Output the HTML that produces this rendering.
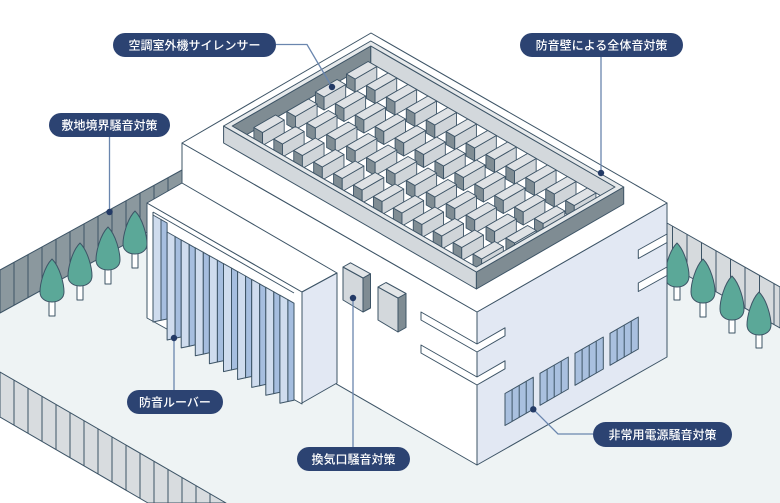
<!DOCTYPE html>
<html><head><meta charset="utf-8"><style>
html,body{margin:0;padding:0;background:#fff;}
svg{display:block;}
.lb{font-family:"Liberation Sans","Noto Sans CJK JP",sans-serif;font-size:12px;font-weight:500;fill:#fff;}
</style></head><body>
<svg width="780" height="503" viewBox="0 0 780 503" xmlns="http://www.w3.org/2000/svg">
<defs>
<g id="bx" stroke="#3d5466" stroke-width="0.9" stroke-linejoin="round">
<polygon points="0,0 8.66,5 8.66,-8 0,-13" fill="#808d94"/>
<polygon points="8.66,5 30.31,-7.5 30.31,-20.5 8.66,-8" fill="#d0d5d9"/>
<polygon points="0,-13 8.66,-8 30.31,-20.5 21.65,-25.5" fill="#dfe2e5"/>
</g>
<g id="row">
<use href="#bx" x="0" y="0"/><use href="#bx" x="19.92" y="11.5"/><use href="#bx" x="39.84" y="23"/><use href="#bx" x="59.76" y="34.5"/><use href="#bx" x="79.68" y="46"/><use href="#bx" x="99.6" y="57.5"/><use href="#bx" x="119.52" y="69"/><use href="#bx" x="139.44" y="80.5"/><use href="#bx" x="159.36" y="92"/><use href="#bx" x="179.28" y="103.5"/><use href="#bx" x="199.2" y="115"/><use href="#bx" x="219.12" y="126.5"/>
</g>
</defs>
<rect width="780" height="503" fill="#fff"/>
<!-- ground -->
<polygon points="0,313 182,213 667,264 780,328 780,503 226,503 0,372" fill="#eef3f4"/>
<g stroke="#3d5466" stroke-width="1" stroke-linejoin="round">
<!-- left back fence -->
<polygon points="0,270 182,170 182,213 0,313" fill="#8b989e"/>
<g fill="none">
<line x1="14" y1="262.3" x2="14" y2="305.3"/><line x1="28" y1="254.6" x2="28" y2="297.6"/><line x1="42" y1="246.9" x2="42" y2="289.9"/><line x1="56" y1="239.3" x2="56" y2="282.3"/><line x1="70" y1="231.6" x2="70" y2="274.6"/><line x1="84" y1="223.9" x2="84" y2="266.9"/><line x1="98" y1="216.2" x2="98" y2="259.2"/><line x1="112" y1="208.5" x2="112" y2="251.5"/><line x1="126" y1="200.8" x2="126" y2="243.8"/><line x1="140" y1="193.1" x2="140" y2="236.1"/><line x1="154" y1="185.5" x2="154" y2="228.5"/><line x1="168" y1="177.8" x2="168" y2="220.8"/>
</g>
<!-- right fence -->
<polygon points="667,223 780,287 780,328 667,264" fill="#d6dadd"/>
<g fill="none">
<line x1="672.5" y1="226.1" x2="672.5" y2="267.1"/><line x1="687" y1="234.3" x2="687" y2="275.3"/><line x1="701.5" y1="242.5" x2="701.5" y2="283.5"/><line x1="716" y1="250.7" x2="716" y2="291.7"/><line x1="730.5" y1="258.9" x2="730.5" y2="299.9"/><line x1="745" y1="267.1" x2="745" y2="308.1"/><line x1="759.5" y1="275.3" x2="759.5" y2="316.3"/><line x1="774" y1="283.5" x2="774" y2="324.5"/>
</g>
<!-- front fence -->
<polygon points="0,372 226,503 148,503 0,417" fill="#d8dcdf"/>
<g fill="none">
<line x1="14" y1="380.1" x2="14" y2="425.1"/><line x1="28" y1="388.2" x2="28" y2="433.2"/><line x1="42" y1="396.4" x2="42" y2="441.4"/><line x1="56" y1="404.5" x2="56" y2="449.5"/><line x1="70" y1="412.6" x2="70" y2="457.6"/><line x1="84" y1="420.7" x2="84" y2="465.7"/><line x1="98" y1="428.8" x2="98" y2="473.8"/><line x1="112" y1="437" x2="112" y2="482"/><line x1="126" y1="445.1" x2="126" y2="490.1"/><line x1="140" y1="453.2" x2="140" y2="498.2"/><line x1="154" y1="461.3" x2="154" y2="503"/><line x1="168" y1="469.4" x2="168" y2="503"/><line x1="182" y1="477.6" x2="182" y2="503"/><line x1="196" y1="485.7" x2="196" y2="503"/><line x1="210" y1="493.8" x2="210" y2="503"/>
</g>
<!-- trees -->
<g fill="#fff">
<rect x="49" y="290" width="6" height="26"/><rect x="77" y="275" width="6" height="25"/><rect x="105" y="259" width="6" height="25"/><rect x="132" y="243" width="6" height="25"/>
<rect x="674" y="276" width="6" height="24"/><rect x="700" y="292" width="6" height="25"/><rect x="729" y="309" width="6" height="24"/><rect x="756" y="324" width="6" height="24"/>
</g>
<g fill="#5ba898">
<path d="M52,259 C60,267 64,284 64,292 C64,298 59,302 52,302 C45,302 40,298 40,292 C40,284 44,267 52,259Z"/>
<path d="M80,243 C88,251 92,268 92,276 C92,282 87,286 80,286 C73,286 68,282 68,276 C68,268 72,251 80,243Z"/>
<path d="M108,227 C116,235 120,252 120,260 C120,266 115,270 108,270 C101,270 96,266 96,260 C96,252 100,235 108,227Z"/>
<path d="M135,211 C143,219 147,236 147,244 C147,250 142,254 135,254 C128,254 123,250 123,244 C123,236 127,219 135,211Z"/>
<path d="M677,243 C685,251 689,268 689,276 C689,283 684,287 677,287 C670,287 665,283 665,276 C665,268 669,251 677,243Z"/>
<path d="M703,259 C711,267 715,284 715,292 C715,299 710,303 703,303 C696,303 691,299 691,292 C691,284 695,267 703,259Z"/>
<path d="M732,276 C740,284 744,301 744,309 C744,316 739,320 732,320 C725,320 720,316 720,309 C720,301 724,284 732,276Z"/>
<path d="M759,292 C767,300 771,317 771,325 C771,331 766,335 759,335 C752,335 747,331 747,325 C747,317 751,300 759,292Z"/>
</g>
<!-- building -->
<polygon points="182,143 477,312 477,465 182,295" fill="#fff"/>
<polygon points="477,312 667,203 667,357 477,465" fill="#e2e8f3"/>
<polygon points="182,143 371,33 667,203 477,312" fill="#fff"/>
<!-- slits -->
<polygon points="421,312 477,344 505,327.8 505,335.8 477,352 421,320" fill="#fff"/>
<polygon points="421,345 477,377 505,360.8 505,368.8 477,385 421,353" fill="#fff"/>
<polygon points="638.3,250 667,234 667,242.5 638.3,258.5" fill="#fff"/>
<polygon points="638.3,283 667,267 667,275.5 638.3,291.5" fill="#fff"/>
<!-- grilles -->
<g fill="#a9c0df">
<polygon points="505,393.5 533.3,377.2 533.3,409.2 505,425.5"/>
<polygon points="540,373.3 568.3,357 568.3,389 540,405.3"/>
<polygon points="575,353.3 603.3,337 603.3,369 575,385.3"/>
<polygon points="610,333.3 638.3,317 638.3,349 610,365.3"/>
</g>
<g fill="none">
<line x1="512.1" y1="389.4" x2="512.1" y2="421.4"/><line x1="519.2" y1="385.3" x2="519.2" y2="417.3"/><line x1="526.2" y1="381.3" x2="526.2" y2="413.3"/>
<line x1="547.1" y1="369.2" x2="547.1" y2="401.2"/><line x1="554.2" y1="365.1" x2="554.2" y2="397.1"/><line x1="561.2" y1="361.1" x2="561.2" y2="393.1"/>
<line x1="582.1" y1="349.2" x2="582.1" y2="381.2"/><line x1="589.2" y1="345.1" x2="589.2" y2="377.1"/><line x1="596.2" y1="341.1" x2="596.2" y2="373.1"/>
<line x1="617.1" y1="329.2" x2="617.1" y2="361.2"/><line x1="624.2" y1="325.1" x2="624.2" y2="357.1"/><line x1="631.2" y1="321.1" x2="631.2" y2="353.1"/>
</g>
<!-- parapet inner faces -->
<polygon points="232.2,126 370.8,46 370.8,63 232.2,143" fill="#7f8c93"/>
<polygon points="370.8,46 615,187 615,204 370.8,63" fill="#d3d8dc"/>
</g>
<!-- boxes -->
<use href="#row" transform="translate(346.5,87)"/>
<use href="#row" transform="translate(315.4,105)"/>
<use href="#row" transform="translate(286.8,124.5)"/>
<use href="#row" transform="translate(253.9,140.5)"/>
<g stroke="#3d5466" stroke-width="1" stroke-linejoin="round">
<!-- parapet front outer faces and top ring -->
<polygon points="223.6,126 476.4,272 476.4,289 223.6,143" fill="#d3d8dc"/>
<polygon points="476.4,272 623.7,187 623.7,204 476.4,289" fill="#7f8c93"/>
<path d="M223.6,126 L370.8,41 L623.7,187 L476.4,272 Z M232.2,126 L370.8,46 L615,187 L476.4,267 Z" fill="#e6e9eb" fill-rule="evenodd"/>
<!-- annex -->
<polygon points="147,203 302,292 302,404 147,318" fill="#fff"/>
<line x1="153" y1="212" x2="294" y2="293" fill="none"/>
<line x1="153" y1="212" x2="153" y2="322" fill="none"/>
<g>
<polygon points="153,215 161,219.5 161,320.3 153,322" fill="#cfdcee"/><polygon points="161,219.5 167.1,223 167.1,319 161,320.3" fill="#a6bedf"/>
<polygon points="167.1,232 175.1,236.5 175.1,338.3 167.1,340" fill="#cfdcee"/><polygon points="175.1,236.5 181.2,240 181.2,337 175.1,338.3" fill="#a6bedf"/>
<polygon points="181.2,239.9 189.2,244.4 189.2,346.2 181.2,347.9" fill="#cfdcee"/><polygon points="189.2,244.4 195.3,247.9 195.3,344.9 189.2,346.2" fill="#a6bedf"/>
<polygon points="195.3,247.8 203.3,252.3 203.3,354.1 195.3,355.8" fill="#cfdcee"/><polygon points="203.3,252.3 209.4,255.8 209.4,352.8 203.3,354.1" fill="#a6bedf"/>
<polygon points="209.4,255.7 217.4,260.2 217.4,362 209.4,363.7" fill="#cfdcee"/><polygon points="217.4,260.2 223.5,263.7 223.5,360.7 217.4,362" fill="#a6bedf"/>
<polygon points="223.5,263.6 231.5,268.1 231.5,369.9 223.5,371.6" fill="#cfdcee"/><polygon points="231.5,268.1 237.6,271.6 237.6,368.6 231.5,369.9" fill="#a6bedf"/>
<polygon points="237.6,271.5 245.6,276 245.6,377.8 237.6,379.5" fill="#cfdcee"/><polygon points="245.6,276 251.7,279.5 251.7,376.5 245.6,377.8" fill="#a6bedf"/>
<polygon points="251.7,279.4 259.7,283.9 259.7,385.7 251.7,387.4" fill="#cfdcee"/><polygon points="259.7,283.9 265.8,287.4 265.8,384.4 259.7,385.7" fill="#a6bedf"/>
<polygon points="265.8,287.3 273.8,291.8 273.8,393.6 265.8,395.3" fill="#cfdcee"/><polygon points="273.8,291.8 279.9,295.3 279.9,392.3 273.8,393.6" fill="#a6bedf"/>
<polygon points="279.9,295.2 287.9,299.7 287.9,401.5 279.9,403.2" fill="#cfdcee"/><polygon points="287.9,299.7 294,303.2 294,400.2 287.9,401.5" fill="#a6bedf"/>
</g>
<polygon points="147,203 182,183 337,273 302,292" fill="#fff"/>
<polygon points="302,292 337,273 337,383 302,403" fill="#e2e8f3"/>
<!-- vent boxes -->
<polygon points="343,267 363,278 363,312 343,300" fill="#d3d8dc"/>
<polygon points="363,278 370.5,273.8 370.5,308 363,312" fill="#7f8c93"/>
<polygon points="343,267 350.5,262.8 370.5,273.8 363,278" fill="#e3e6e8"/>
<polygon points="378,287 398,298 398,332 378,320" fill="#d3d8dc"/>
<polygon points="398,298 406,293.5 406,327.5 398,332" fill="#7f8c93"/>
<polygon points="378,287 386,282.5 406,293.5 398,298" fill="#e3e6e8"/>
</g>
<!-- connectors -->
<g stroke="#6a86ae" stroke-width="1.3" fill="none">
<polyline points="276,44.5 307,44.5 332,87"/>
<line x1="601" y1="57" x2="601" y2="173"/>
<line x1="109.5" y1="137" x2="109.5" y2="212"/>
<line x1="174" y1="338" x2="174" y2="390"/>
<line x1="353" y1="298" x2="353" y2="447"/>
<polyline points="533.3,409.3 558,434 593,434"/>
</g>
<g fill="#233a66">
<circle cx="332" cy="87" r="3.2"/><circle cx="601" cy="173" r="3.2"/><circle cx="109.5" cy="212" r="3.2"/><circle cx="174" cy="338" r="3.2"/><circle cx="353" cy="298" r="3.2"/><circle cx="533.3" cy="409.3" r="3.2"/>
</g>
<!-- pills -->
<g fill="#2c4372">
<rect x="113" y="33" width="163" height="24" rx="12"/>
<rect x="520" y="33" width="163" height="24" rx="12"/>
<rect x="49" y="113" width="121" height="24" rx="12"/>
<rect x="127" y="390" width="96" height="24" rx="12"/>
<rect x="297" y="447" width="113" height="24" rx="12"/>
<rect x="593" y="422" width="139" height="25" rx="12.5"/>
</g>
<g text-anchor="middle">
<text class="lb" x="194.5" y="49.3">空調室外機サイレンサー</text>
<text class="lb" x="601.5" y="49.3">防音壁による全体音対策</text>
<text class="lb" x="109.5" y="129.3">敷地境界騒音対策</text>
<text class="lb" x="175" y="406.3">防音ルーバー</text>
<text class="lb" x="353.5" y="463.3">換気口騒音対策</text>
<text class="lb" x="662.5" y="438.8">非常用電源騒音対策</text>
</g>
</svg>
</body></html>
